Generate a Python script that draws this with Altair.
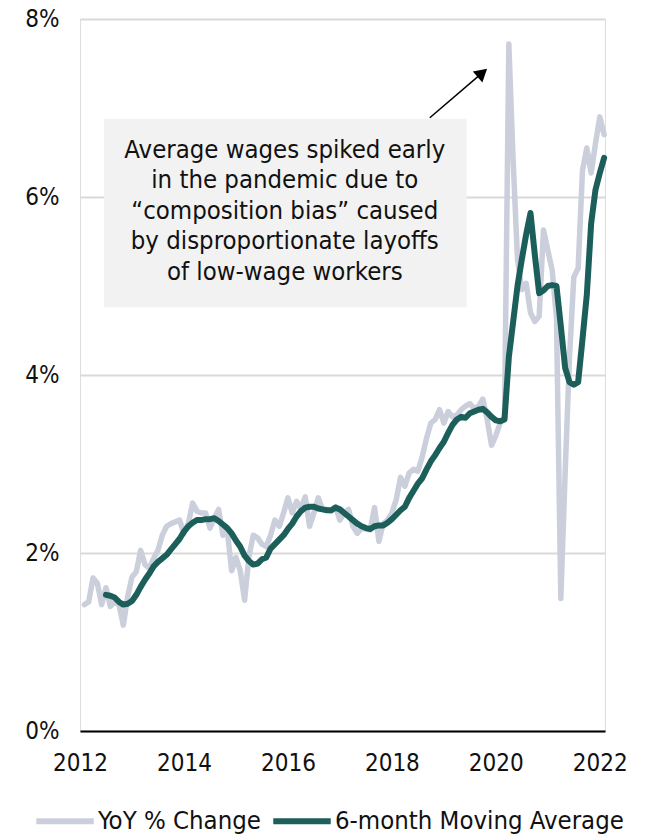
import altair as alt
import pandas as pd

# --- data (monthly, Feb 2012 .. Feb 2022) ---
start_month = "2012-02-01"
yoy = [
    1.42, 1.45, 1.72, 1.66, 1.42, 1.61, 1.40, 1.45, 1.42, 1.19, 1.51,            # Feb-Dec 2012
    1.73, 1.79, 2.03, 1.87, 1.83, 1.94, 2.03, 2.20, 2.30, 2.33, 2.35, 2.37,      # 2013
    2.22, 2.33, 2.56, 2.47, 2.45, 2.45, 2.28, 2.39, 2.49, 2.20, 2.26, 1.80,      # 2014
    1.95, 1.80, 1.47, 1.96, 2.20, 2.17, 2.10, 2.07, 2.20, 2.37, 2.30, 2.45,      # 2015
    2.62, 2.45, 2.58, 2.50, 2.63, 2.30, 2.45, 2.62, 2.49, 2.49, 2.47, 2.52,      # 2016
    2.37, 2.45, 2.49, 2.30, 2.22, 2.28, 2.27, 2.26, 2.51, 2.13, 2.33, 2.37,      # 2017
    2.45, 2.60, 2.85, 2.75, 2.90, 2.94, 2.92, 3.08, 3.29, 3.46, 3.50, 3.61,      # 2018
    3.46, 3.59, 3.53, 3.55, 3.61, 3.65, 3.68, 3.62, 3.65, 3.73, 3.50, 3.21,      # 2019
    3.32, 3.46, 3.52, 7.72, 6.40, 5.30, 4.96, 5.03, 4.70, 4.60, 4.66, 5.63,      # 2020
    5.40, 5.18, 4.64, 1.49, 2.90, 4.20, 5.10, 5.20, 6.30, 6.55, 6.27, 6.60,      # 2021
    6.90, 6.70,                                                                  # 2022
]
ma_start_month = "2012-07-01"
ma6 = [
    1.53, 1.52, 1.50, 1.45, 1.42, 1.43,                                          # Jul-Dec 2012
    1.46, 1.53, 1.62, 1.70, 1.77, 1.85, 1.90, 1.94, 1.98, 2.04, 2.10, 2.16,      # 2013
    2.24, 2.30, 2.34, 2.37, 2.37, 2.38, 2.38, 2.39, 2.36, 2.32, 2.28, 2.22,      # 2014
    2.14, 2.07, 1.97, 1.91, 1.87, 1.88, 1.93, 1.95, 2.05, 2.10, 2.15, 2.20,      # 2015
    2.27, 2.33, 2.41, 2.47, 2.51, 2.52, 2.52, 2.50, 2.49, 2.48, 2.48, 2.51,      # 2016
    2.49, 2.45, 2.41, 2.37, 2.33, 2.30, 2.28, 2.27, 2.30, 2.31, 2.31, 2.34,      # 2017
    2.38, 2.43, 2.48, 2.52, 2.62, 2.70, 2.78, 2.84, 2.94, 3.03, 3.10, 3.18,      # 2018
    3.25, 3.35, 3.44, 3.50, 3.53, 3.52, 3.57, 3.59, 3.61, 3.62, 3.58, 3.53,      # 2019
    3.49, 3.48, 3.50, 4.20, 4.60, 5.00, 5.30, 5.58, 5.82, 5.35, 4.92, 4.95,      # 2020
    5.00, 5.01, 5.00, 4.55, 4.08, 3.92, 3.89, 3.92, 4.40, 4.90, 5.70, 6.08,      # 2021
    6.27, 6.44,                                                                  # 2022
]
series_names = ["YoY % Change", "6-month Moving Average"]
series_colors = ["#cbcfdc", "#1c5f5a"]
y_ticks = [0, 2, 4, 6, 8]
x_ticks = [2012, 2014, 2016, 2018, 2020, 2022]

note_lines = [
    "Average wages spiked early",
    "in the pandemic due to",
    "\u201ccomposition bias\u201d caused",
    "by disproportionate layoffs",
    "of low-wage workers",
]

def frame(values, start, name):
    d = pd.date_range(start, periods=len(values), freq="MS")
    return pd.DataFrame({
        "t": d.year + (d.month - 1) / 12.0,
        "v": values,
        "series": name,
    })

df_yoy = frame(yoy, start_month, series_names[0])
df_ma = frame(ma6, ma_start_month, series_names[1])

FONT = "DejaVu Sans Condensed"

xscale = alt.Scale(domain=[2012, 2022.1], nice=False, zero=False)
yscale = alt.Scale(domain=[0, 8], nice=False)
cscale = alt.Scale(domain=series_names, range=series_colors)

xenc = alt.X("t:Q", scale=xscale,
             axis=alt.Axis(values=x_ticks, format="d", title=None, grid=False,
                           ticks=False, domainColor="#000000", domainWidth=2,
                           labelFontSize=24, labelPadding=20, labelColor="#111111",
                           labelFont=FONT, labelFlush=False))
yenc = alt.Y("v:Q", scale=yscale,
             axis=alt.Axis(values=y_ticks, labelExpr="datum.value + '%'", title=None,
                           domain=False, ticks=False, grid=True, gridColor="#d9d9d9",
                           gridWidth=2, labelFontSize=24, labelPadding=21,
                           labelColor="#111111", labelFont=FONT, labelFlush=False))

legend = alt.Legend(title=None, orient="none", direction="horizontal",
                    legendX=-47, legendY=770, symbolType="stroke", symbolSize=3300,
                    symbolStrokeWidth=6, labelFontSize=25.5, labelFont=FONT,
                    labelColor="#111111", labelOffset=1, columnPadding=0,
                    labelLimit=500)

line_yoy = alt.Chart(df_yoy).mark_line(strokeWidth=5.5, strokeJoin="round", strokeCap="round").encode(
    x=xenc, y=yenc,
    color=alt.Color("series:N", scale=cscale, legend=legend, sort=series_names),
)
line_ma = alt.Chart(df_ma).mark_line(strokeWidth=6, strokeJoin="round", strokeCap="round").encode(
    x="t:Q", y="v:Q",
    color=alt.Color("series:N", scale=cscale, legend=legend, sort=series_names),
)

box_df = pd.DataFrame({"x": [2012.46], "x2": [2019.44], "y": [6.88], "y2": [4.76]})
box = alt.Chart(box_df).mark_rect(color="#f2f2f2").encode(
    x=alt.X("x:Q", scale=xscale), x2="x2:Q",
    y=alt.Y("y:Q", scale=yscale), y2="y2:Q",
)

text_df = pd.DataFrame({"x": [2015.94], "y": [6.53]})
note = alt.Chart(text_df).mark_text(
    fontSize=25.5, font=FONT, color="#111111", lineHeight=30.5,
    align="center", baseline="middle",
).encode(
    x=alt.X("x:Q", scale=xscale), y=alt.Y("y:Q", scale=yscale),
    text=alt.value(note_lines),
)

arrow_df = pd.DataFrame({"x": [2018.73], "y": [6.89], "x2": [2019.71], "y2": [7.38]})
arrow_line = alt.Chart(arrow_df).mark_rule(color="#000000", strokeWidth=1.5).encode(
    x=alt.X("x:Q", scale=xscale), y=alt.Y("y:Q", scale=yscale),
    x2="x2:Q", y2="y2:Q",
)
head_df = pd.DataFrame({"x": [2019.71], "y": [7.38]})
arrow_head = alt.Chart(head_df).mark_point(
    shape="triangle", filled=True, color="#000000", size=210, angle=49, opacity=1,
).encode(x=alt.X("x:Q", scale=xscale), y=alt.Y("y:Q", scale=yscale))

chart = alt.layer(line_yoy, line_ma, box, note, arrow_line, arrow_head).properties(
    width=525, height=712,
    autosize=alt.AutoSizeParams(type="none"),
    padding={"left": 80, "top": 19, "right": 43, "bottom": 104},
).configure_view(stroke=None).configure(font=FONT)

chart.save("out.html", embed_options={"renderer": "svg", "actions": False})
